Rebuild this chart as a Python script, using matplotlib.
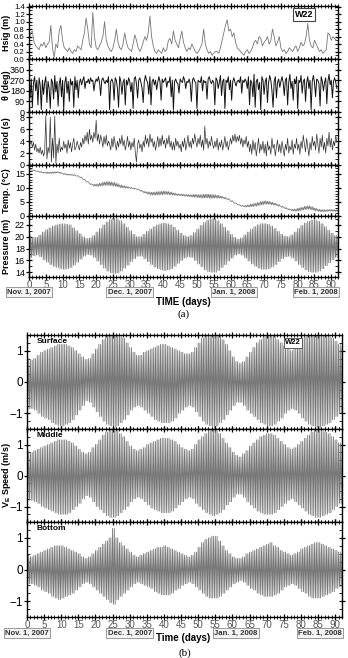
import matplotlib
matplotlib.use("Agg")
import matplotlib.pyplot as plt
import matplotlib.transforms as mtransforms
from matplotlib.ticker import MultipleLocator

plt.rcParams['font.family'] = ['Liberation Sans', 'DejaVu Sans']

# ---------------- data ----------------
days_ticks = list(range(0, 91, 5))
date_labels = ["Nov. 1, 2007", "Dec. 1, 2007", "Jan. 1, 2008", "Feb. 1, 2008"]
date_days = [0, 30, 61, 92]

# Hsig (m), half-day samples
hsig = [0.5, 0.7, 0.75, 0.45, 0.35, 0.3, 0.25, 0.4, 0.35, 0.45, 0.3, 0.4, 0.45, 0.9, 0.3, 0.05,
        0.4, 0.3, 0.75, 0.9, 0.5, 0.3, 0.25, 0.2, 0.3, 0.2, 0.15, 0.25, 0.2, 0.35, 0.3, 0.25,
        0.5, 0.7, 1.1, 0.8, 0.4, 0.3, 1.25, 0.6, 0.3, 0.25, 0.35, 0.45, 0.6, 1.0, 0.5, 0.35,
        0.25, 0.2, 0.3, 0.5, 0.8, 0.45, 0.3, 0.25, 0.4, 0.7, 0.45, 0.3, 0.25, 0.2, 0.4, 0.65,
        0.5, 0.3, 0.2, 0.3, 0.45, 0.6, 0.5, 0.7, 1.15, 0.6, 0.35, 0.2, 0.15, 0.25, 0.2, 0.15,
        0.3, 0.2, 0.25, 0.5, 0.55, 0.4, 0.75, 0.5, 0.4, 0.3, 0.55, 0.75, 0.45, 0.3, 0.2, 0.3,
        0.25, 0.4, 0.3, 0.2, 0.15, 0.2, 0.3, 0.4, 0.8, 0.4, 0.25, 0.15, 0.2, 0.1, 0.15, 0.2,
        0.2, 0.15, 0.3, 0.5, 0.7, 0.9, 1.05, 0.75, 0.8, 0.6, 0.7, 0.45, 0.3, 0.25, 0.2, 0.15,
        0.1, 0.2, 0.25, 0.15, 0.2, 0.3, 0.45, 0.5, 0.4, 0.6, 0.55, 0.35, 0.45, 0.5, 0.6, 0.4,
        0.5, 0.8, 0.6, 0.35, 0.45, 0.6, 0.3, 0.2, 0.25, 0.15, 0.2, 0.3, 0.25, 0.2, 0.3, 0.35,
        0.2, 0.3, 0.45, 0.35, 0.4, 0.6, 0.95, 0.5, 0.35, 0.3, 0.5, 0.4, 0.3, 0.2, 0.25, 0.15,
        0.2, 0.25, 0.7, 0.65, 0.5, 0.6, 0.55, 0.5]

# wave direction (deg), three samples per day
theta = [260, 120, 280, 40, 250, 300, 180, 270, 60, 290, 230, 20, 270, 150, 250,
         300, 80, 260, 200, 30, 280, 250, 110, 310, 170, 260, 50, 240, 290, 130,
         270, 20, 250, 300, 160, 260, 90, 280, 230, 260, 40, 300, 190, 270, 120,
         250, 280, 230, 270, 300, 200, 260, 250, 280, 240, 290, 260, 270, 180, 250,
         280, 260, 300, 250, 140, 270, 290, 260, 240, 270, 250, 300, 20, 260, 280,
         250, 100, 290, 270, 200, 40, 300, 260, 150, 250, 280, 60, 270, 230, 290,
         260, 170, 250, 30, 280, 300, 240, 120, 270, 290, 250, 200, 80, 260, 310,
         270, 250, 150, 300, 60, 260, 280, 230, 270, 190, 250, 300, 260, 100, 280,
         250, 270, 290, 210, 260, 250, 300, 130, 270, 20, 260, 280, 250, 240, 160,
         280, 260, 250, 300, 270, 200, 260, 250, 280, 240, 90, 270, 290, 260, 250,
         30, 270, 260, 250, 300, 180, 270, 250, 260, 110, 280, 300, 260, 240, 270,
         250, 60, 290, 270, 200, 250, 310, 140, 260, 280, 30, 270, 250, 300, 190,
         270, 100, 260, 290, 250, 220, 260, 270, 250, 300, 160, 270, 250, 280, 260,
         200, 300, 60, 270, 250, 130, 320, 40, 260, 280, 190, 250, 20, 300, 270,
         150, 260, 290, 80, 250, 310, 270, 180, 40, 260, 300, 120, 250, 280, 210,
         260, 300, 250, 140, 270, 290, 60, 250, 320, 200, 260, 100, 280, 240, 300,
         30, 270, 250, 310, 160, 260, 280, 90, 250, 300, 200, 270, 20, 260, 310,
         250, 130, 280, 270, 240, 50, 300, 260, 180, 250, 290, 70, 260, 320, 230,
         270, 120, 260, 290, 250, 200]

# wave period (s), three samples per day
period = [4.2, 3.5, 4.0, 3.0, 3.8, 2.5, 3.5, 2.2, 2.8, 2.0, 3.0, 1.8, 2.5, 1.5, 2.2,
          8.2, 1.0, 3.0, 2.0, 8.0, 0.5, 4.5, 1.2, 8.2, 0.3, 3.5, 2.0, 4.5, 2.2, 3.0,
          2.5, 4.0, 2.8, 3.5, 2.0, 4.2, 2.8, 3.8, 2.2, 3.5, 4.5, 2.5, 3.0, 4.0, 3.2,
          2.5, 3.8, 3.0, 4.5, 3.5, 5.0, 4.0, 5.5, 3.5, 6.0, 4.2, 5.0, 3.8, 5.5, 4.5,
          7.5, 4.0, 5.2, 3.5, 5.0, 4.2, 3.0, 4.8, 3.5, 5.0, 3.2, 4.0, 3.5, 2.5, 4.5,
          3.0, 4.8, 3.5, 2.5, 4.0, 3.0, 4.5, 3.5, 5.0, 3.2, 4.2, 2.5, 3.5, 4.8, 3.0,
          4.0, 2.5, 3.8, 3.0, 4.5, 2.0, 0.5, 3.5, 4.2, 2.8, 3.5, 2.2, 4.0, 3.0, 5.0,
          3.5, 4.5, 3.0, 5.2, 3.8, 4.5, 3.0, 4.0, 2.5, 3.5, 4.8, 3.0, 4.5, 3.2, 5.0,
          3.5, 4.2, 2.8, 4.5, 3.5, 5.0, 3.0, 4.0, 2.5, 3.8, 2.5, 4.5, 3.2, 4.0, 2.8,
          3.5, 2.2, 4.0, 3.0, 4.5, 2.5, 3.5, 5.0, 3.0, 4.0, 2.8, 4.5, 3.5, 5.2, 4.0,
          3.0, 4.5, 3.5, 5.0, 3.0, 4.2, 2.5, 6.5, 3.5, 4.5, 2.8, 4.0, 3.2, 4.8, 3.5,
          2.8, 4.0, 3.0, 4.5, 2.5, 3.8, 3.0, 4.2, 2.5, 3.5, 4.8, 3.0, 4.0, 2.5, 3.5,
          4.5, 3.5, 5.0, 4.0, 5.2, 3.8, 4.8, 4.0, 5.0, 3.5, 4.5, 3.0, 4.2, 3.5, 4.8,
          3.0, 4.0, 2.2, 3.5, 1.8, 4.2, 2.5, 3.8, 1.5, 3.0, 4.5, 2.0, 3.5, 2.5, 4.0,
          2.0, 3.5, 1.5, 4.0, 2.5, 3.2, 1.8, 4.5, 2.8, 3.5, 1.5, 3.0, 4.2, 2.2, 3.5,
          2.0, 4.0, 2.8, 1.5, 3.5, 2.5, 4.5, 2.0, 3.2, 2.5, 4.2, 1.8, 3.5, 2.8, 4.5,
          2.5, 3.5, 1.8, 4.0, 2.8, 5.0, 3.5, 2.2, 4.5, 3.0, 1.5, 3.8, 2.5, 4.8, 3.2,
          4.0, 2.5, 5.2, 3.5, 2.0, 4.5, 3.0, 5.0, 2.5, 3.8, 2.0, 4.5, 3.2, 5.5, 3.0,
          4.5, 2.5, 4.0, 3.2, 5.0, 3.8]

# temperature (deg C), daily mean and daily tidal half-range
temp = [16.5, 16.3, 16.0, 15.7, 15.5, 15.4, 15.4, 15.5, 15.6, 15.4, 15.0, 14.8, 14.7, 14.6, 14.3,
        13.8, 13.0, 12.2, 11.4, 11.0, 11.0, 11.2, 11.5, 11.6, 11.5, 11.3, 11.0, 10.6, 10.4, 10.2,
        10.0, 9.8, 9.5, 9.0, 8.5, 8.2, 8.0, 8.0, 8.1, 8.2, 8.3, 8.2, 8.0, 7.8, 7.6, 7.5, 7.4, 7.3,
        7.2, 7.2, 7.1, 7.0, 7.1, 7.1, 7.0, 7.0, 6.9, 6.7, 6.4, 6.0, 5.3, 4.6, 4.0, 3.6, 3.5, 3.6,
        3.8, 4.0, 4.3, 4.6, 4.8, 4.7, 4.5, 4.2, 3.8, 3.3, 2.8, 2.4, 2.1, 2.1, 2.3, 2.6, 2.9, 3.0,
        2.7, 2.3, 2.0, 1.9, 1.9, 2.0, 2.0, 1.9, 1.9]
temp_amp = [0.1, 0.1, 0.1, 0.15, 0.15, 0.2, 0.25, 0.25, 0.2, 0.2, 0.2, 0.2, 0.15, 0.15, 0.1, 0.1, 0.1, 0.1, 0.15,
            0.3, 0.4, 0.5, 0.6, 0.7, 0.7, 0.7, 0.6, 0.5, 0.4, 0.3, 0.2, 0.15, 0.15, 0.2,
            0.3, 0.4, 0.5, 0.55, 0.6, 0.6, 0.6, 0.55, 0.5, 0.4, 0.3, 0.3, 0.3, 0.35, 0.4,
            0.5, 0.55, 0.6, 0.65, 0.7, 0.7, 0.6, 0.5, 0.4, 0.3, 0.2, 0.15, 0.1, 0.1, 0.15,
            0.25, 0.35, 0.45, 0.5, 0.55, 0.6, 0.6, 0.55, 0.5, 0.4, 0.3, 0.2, 0.2, 0.2, 0.3,
            0.4, 0.5, 0.5, 0.55, 0.6, 0.6, 0.5, 0.4, 0.35, 0.3, 0.3, 0.3, 0.3, 0.3]

# pressure (m): daily high / low water
pres_hi = [20.2, 19.9, 19.9, 20.3, 20.8, 21.2, 21.5, 21.8, 22.0, 22.1, 22.2, 22.1, 22.0, 21.5, 21.0, 20.5, 20.0, 19.7, 19.8,
           20.2, 20.8, 21.4, 22.0, 22.5, 22.9, 23.1, 23.0, 22.7, 22.2, 21.6, 21.0, 20.4, 20.0, 20.0,
           20.4, 20.9, 21.3, 21.7, 22.0, 22.2, 22.3, 22.2, 22.0, 21.6, 21.1, 20.6, 20.2, 20.0, 20.2,
           20.7, 21.3, 21.9, 22.4, 22.8, 23.0, 23.0, 22.7, 22.2, 21.6, 21.0, 20.4, 19.9, 19.6, 19.8,
           20.3, 20.8, 21.3, 21.7, 22.0, 22.2, 22.2, 22.1, 21.8, 21.4, 20.9, 20.4, 20.1, 20.0, 20.3,
           20.8, 21.4, 21.9, 22.3, 22.6, 22.8, 22.8, 22.6, 22.2, 21.7, 21.1, 20.6, 20.2, 20.0]
pres_lo = [16.5, 16.8, 16.9, 16.6, 16.1, 15.7, 15.3, 15.0, 14.8, 14.6, 14.5, 14.6, 14.8, 15.2, 15.7, 16.2, 16.7, 17.0, 16.9,
           16.5, 15.9, 15.3, 14.7, 14.2, 13.9, 13.8, 13.9, 14.2, 14.7, 15.2, 15.8, 16.3, 16.7, 16.7,
           16.3, 15.8, 15.3, 14.9, 14.6, 14.4, 14.3, 14.4, 14.6, 15.0, 15.5, 16.0, 16.4, 16.6, 16.5,
           16.0, 15.4, 14.9, 14.4, 14.1, 14.0, 14.0, 14.3, 14.8, 15.3, 15.9, 16.4, 16.9, 17.1, 16.9,
           16.4, 15.9, 15.4, 15.0, 14.7, 14.5, 14.5, 14.6, 14.9, 15.3, 15.8, 16.3, 16.6, 16.7, 16.4,
           15.9, 15.3, 14.8, 14.4, 14.1, 14.0, 14.0, 14.2, 14.6, 15.1, 15.6, 16.1, 16.5, 16.7]

# eastward velocity (m/s): daily max / min
surf_hi = [0.75, 0.7, 0.75, 0.85, 0.95, 1.0, 1.05, 1.1, 1.15, 1.2, 1.2, 1.2, 1.15, 1.1, 1.0, 0.9, 0.8, 0.72, 0.75,
           0.9, 1.05, 1.2, 1.35, 1.5, 1.6, 1.65, 1.6, 1.5, 1.4, 1.25, 1.1, 0.95, 0.85, 0.85,
           0.95, 1.0, 1.05, 1.1, 1.15, 1.2, 1.2, 1.15, 1.1, 1.05, 1.0, 0.95, 0.9, 0.9, 0.95,
           1.1, 1.25, 1.4, 1.5, 1.6, 1.65, 1.6, 1.5, 1.35, 1.2, 1.0, 0.8, 0.65, 0.6, 0.65,
           0.8, 0.95, 1.1, 1.25, 1.35, 1.45, 1.5, 1.5, 1.45, 1.35, 1.25, 1.15, 1.05, 1.0, 1.05,
           1.2, 1.35, 1.45, 1.55, 1.6, 1.65, 1.65, 1.6, 1.55, 1.5, 1.4, 1.3, 1.2, 1.1]
surf_lo = [-0.85, -0.85, -0.9, -1.0, -1.1, -1.15, -1.2, -1.3, -1.35, -1.4, -1.4, -1.35, -1.3, -1.2, -1.05, -0.9, -0.75, -0.6, -0.65,
           -0.8, -0.95, -1.1, -1.25, -1.35, -1.4, -1.45, -1.4, -1.3, -1.2, -1.05, -0.9, -0.8, -0.75, -0.8,
           -0.9, -1.0, -1.1, -1.2, -1.25, -1.3, -1.3, -1.3, -1.25, -1.15, -1.0, -0.9, -0.8, -0.75, -0.8,
           -0.95, -1.1, -1.25, -1.35, -1.4, -1.45, -1.4, -1.3, -1.2, -1.05, -0.9, -0.75, -0.65, -0.65, -0.75,
           -0.9, -1.0, -1.1, -1.2, -1.3, -1.35, -1.4, -1.4, -1.35, -1.25, -1.15, -1.0, -0.9, -0.85, -0.9,
           -1.0, -1.15, -1.25, -1.35, -1.4, -1.45, -1.45, -1.4, -1.35, -1.3, -1.2, -1.1, -1.0, -0.95]
mid_hi = [0.8, 0.75, 0.8, 0.85, 0.9, 0.95, 1.0, 1.05, 1.1, 1.15, 1.15, 1.15, 1.1, 1.05, 0.95, 0.85, 0.75, 0.7, 0.75,
          0.9, 1.0, 1.15, 1.3, 1.4, 1.45, 1.5, 1.45, 1.35, 1.25, 1.1, 0.95, 0.85, 0.8, 0.85,
          0.9, 1.0, 1.05, 1.1, 1.15, 1.2, 1.2, 1.2, 1.15, 1.1, 1.0, 0.9, 0.85, 0.8, 0.85,
          1.0, 1.15, 1.25, 1.35, 1.45, 1.5, 1.45, 1.35, 1.2, 1.05, 0.9, 0.75, 0.65, 0.6, 0.7,
          0.8, 0.95, 1.05, 1.15, 1.25, 1.3, 1.35, 1.35, 1.3, 1.2, 1.1, 1.0, 0.9, 0.85, 0.9,
          1.0, 1.1, 1.2, 1.3, 1.4, 1.45, 1.45, 1.45, 1.4, 1.35, 1.25, 1.15, 1.05, 0.95]
mid_lo = [-0.8, -0.8, -0.85, -0.9, -1.0, -1.05, -1.1, -1.15, -1.2, -1.25, -1.25, -1.25, -1.2, -1.1, -1.0, -0.9, -0.75, -0.65, -0.7,
          -0.85, -1.0, -1.1, -1.2, -1.3, -1.35, -1.35, -1.3, -1.2, -1.1, -1.0, -0.85, -0.75, -0.7, -0.75,
          -0.85, -0.95, -1.05, -1.1, -1.15, -1.2, -1.2, -1.2, -1.15, -1.05, -0.95, -0.85, -0.75, -0.7, -0.75,
          -0.9, -1.0, -1.1, -1.2, -1.25, -1.3, -1.25, -1.2, -1.1, -0.95, -0.85, -0.7, -0.6, -0.6, -0.7,
          -0.85, -0.95, -1.05, -1.15, -1.2, -1.25, -1.25, -1.25, -1.2, -1.1, -1.0, -0.9, -0.8, -0.75, -0.85,
          -0.95, -1.05, -1.15, -1.25, -1.3, -1.35, -1.35, -1.3, -1.25, -1.2, -1.1, -1.0, -0.9, -0.85]
bot_hi = [0.45, 0.4, 0.45, 0.5, 0.55, 0.6, 0.65, 0.7, 0.75, 0.75, 0.75, 0.7, 0.65, 0.6, 0.55, 0.5, 0.4, 0.35, 0.4,
          0.5, 0.6, 0.7, 0.8, 0.9, 1.0, 1.3, 1.0, 0.85, 0.75, 0.65, 0.55, 0.45, 0.4, 0.45,
          0.5, 0.55, 0.6, 0.65, 0.7, 0.7, 0.75, 0.7, 0.65, 0.6, 0.55, 0.5, 0.45, 0.4, 0.45,
          0.55, 0.7, 0.85, 0.95, 1.0, 1.05, 1.05, 0.9, 0.75, 0.6, 0.5, 0.4, 0.35, 0.35, 0.4,
          0.5, 0.55, 0.6, 0.65, 0.7, 0.75, 0.8, 0.85, 0.75, 0.7, 0.6, 0.55, 0.5, 0.45, 0.5,
          0.55, 0.65, 0.7, 0.75, 0.8, 0.85, 0.85, 0.8, 0.75, 0.7, 0.65, 0.6, 0.55, 0.5]
bot_lo = [-0.45, -0.45, -0.5, -0.55, -0.65, -0.7, -0.75, -0.85, -0.9, -0.95, -0.9, -0.85, -0.8, -0.75, -0.65, -0.55, -0.45, -0.4, -0.45,
          -0.55, -0.65, -0.75, -0.85, -0.95, -1.05, -1.1, -0.95, -0.85, -0.75, -0.65, -0.55, -0.45, -0.4, -0.45,
          -0.5, -0.55, -0.6, -0.7, -0.75, -0.8, -0.8, -0.8, -0.75, -0.65, -0.6, -0.5, -0.45, -0.4, -0.45,
          -0.55, -0.65, -0.75, -0.85, -0.9, -0.9, -0.9, -0.85, -0.75, -0.65, -0.55, -0.45, -0.4, -0.35, -0.4,
          -0.5, -0.6, -0.65, -0.75, -0.8, -0.85, -0.85, -0.85, -0.8, -0.75, -0.65, -0.55, -0.5, -0.45, -0.5,
          -0.6, -0.7, -0.75, -0.85, -0.9, -0.9, -0.9, -0.85, -0.8, -0.75, -0.7, -0.6, -0.55, -0.5]

# ---------------- helpers ----------------
LINE = '#777777'


def steps(vals, per_day):
    return [i / per_day for i in range(len(vals))]


def tidal(hi, lo):
    xs, ys = [], []
    for d, (h, l) in enumerate(zip(hi, lo)):
        for q, v in zip((0.0, 0.25, 0.5, 0.75), (h, l, h, l)):
            xs.append(d + q)
            ys.append(v)
    return xs, ys


def style(ax, xlabels=False, yfs=6.5):
    ax.set_xlim(0, 92)
    ax.xaxis.set_major_locator(MultipleLocator(5))
    ax.xaxis.set_minor_locator(MultipleLocator(1))
    ax.tick_params(axis='x', which='major', direction='inout', length=5, width=0.9,
                   top=True, bottom=True, labelbottom=xlabels, labelsize=7,
                   labelcolor='#555555', pad=-0.5)
    ax.tick_params(axis='x', which='minor', direction='inout', length=2.5, width=0.6,
                   top=True, bottom=True)
    ax.tick_params(axis='y', which='major', direction='inout', length=5, width=0.9,
                   left=True, right=True, labelsize=yfs, pad=0.5)
    ax.tick_params(axis='y', which='minor', direction='in', length=2.5, width=0.6,
                   left=True, right=True)
    for s in ax.spines.values():
        s.set_linewidth(1.0)


def date_boxes(ax, fig, ybox):
    trans = mtransforms.blended_transform_factory(ax.transData, fig.transFigure)
    for lab, d in zip(date_labels, date_days):
        ha = 'right' if d == 92 else 'center'
        ax.text(d, ybox, lab, transform=trans, ha=ha, va='center', fontsize=5.6,
                fontweight='bold', color='#333333', clip_on=False,
                bbox=dict(boxstyle='square,pad=0.18', fc='#f4f4f4', ec='#8a8a8a', lw=0.6))


W, H = 348, 658
fig = plt.figure(figsize=(W / 100, H / 100), dpi=100)


def add_ax(left, right, top, bottom):
    return fig.add_axes([left / W, 1 - bottom / H, (right - left) / W, (bottom - top) / H])


def ylab(ax, text, left, xpix, fs):
    # xpix: right edge (glyph baseline side) of the rotated label, in pixels
    ax.set_ylabel(text, fontsize=fs, fontweight='bold')
    ax.yaxis.set_label_coords((xpix - left) / (ax.get_position().width * W), 0.5)


# ---------------- panel (a) ----------------
axL, axR = 29, 338
ax1 = add_ax(axL, axR, 6, 59)
ax2 = add_ax(axL, axR, 59, 112)
ax3 = add_ax(axL, axR, 112, 165)
ax4 = add_ax(axL, axR, 165, 216)
ax5 = add_ax(axL, axR, 216, 277)

ax1.plot(steps(hsig, 2), hsig, color=LINE, lw=0.6)
ax1.set_ylim(0, 1.42)
ax1.set_yticks([0.0, 0.2, 0.4, 0.6, 0.8, 1.0, 1.2, 1.4])
ax1.set_yticklabels(['0.0', '0.2', '0.4', '0.6', '0.8', '1.0', '1.2', '1.4'])
ax1.yaxis.set_minor_locator(MultipleLocator(0.1))
style(ax1, yfs=5.6)
ylab(ax1, 'Hsig (m)', axL, 11, 6.5)
ax1.text(0.89, 0.84, 'W22', transform=ax1.transAxes, ha='center', va='center',
         fontsize=6.5, fontweight='bold',
         bbox=dict(boxstyle='square,pad=0.2', fc='white', ec='#444444', lw=0.8))

ax2.plot(steps(theta, 3), theta, color='#111111', lw=0.7)
ax2.set_ylim(0, 450)
ax2.set_yticks([0, 90, 180, 270, 360])
ax2.yaxis.set_minor_locator(MultipleLocator(45))
style(ax2)
ylab(ax2, 'θ (deg)', axL, 11, 6.5)

ax3.plot(steps(period, 3), period, color='#333333', lw=0.5)
ax3.set_ylim(0, 8.9)
ax3.set_yticks([0, 2, 4, 6, 8])
ax3.yaxis.set_minor_locator(MultipleLocator(1))
style(ax3)
ylab(ax3, 'Period (s)', axL, 11, 6.5)

tx, ty = [], []
for d, (m, a) in enumerate(zip(temp, temp_amp)):
    for q, s in zip((0.0, 0.25, 0.5, 0.75), (1, -1, 1, -1)):
        tx.append(d + q)
        ty.append(m + s * a)
ax4.plot(tx, ty, color=LINE, lw=0.55)
ax4.set_ylim(0, 18.2)
ax4.set_yticks([0, 5, 10, 15])
ax4.yaxis.set_minor_locator(MultipleLocator(1))
style(ax4)
ylab(ax4, 'Temp. (°C)', axL, 11, 6.5)

px, py = tidal(pres_hi, pres_lo)
ax5.plot(px, py, color=LINE, lw=0.6)
ax5.set_ylim(13.2, 23.5)
ax5.set_yticks([14, 16, 18, 20, 22])
ax5.yaxis.set_minor_locator(MultipleLocator(1))
style(ax5, xlabels=True)
ax5.set_xticks(days_ticks)
ylab(ax5, 'Pressure (m)', axL, 11, 6.5)
date_boxes(ax5, fig, 1 - 292 / H)
fig.text(183 / W, 1 - 302 / H, 'TIME (days)', ha='center', va='center',
         fontsize=7, fontweight='bold')
fig.text((axL + axR) / 2 / W, 1 - 314 / H, '(a)', ha='center', va='center',
         fontsize=8, family='Liberation Serif')

# ---------------- panel (b) ----------------
bL, bR = 27, 342
bx1 = add_ax(bL, bR, 335, 429)
bx2 = add_ax(bL, bR, 429, 522)
bx3 = add_ax(bL, bR, 522, 617)
for ax, (hi, lo), name in zip((bx1, bx2, bx3),
                              ((surf_hi, surf_lo), (mid_hi, mid_lo), (bot_hi, bot_lo)),
                              ('Surface', 'Middle', 'Bottom')):
    xs, ys = tidal(hi, lo)
    ax.plot(xs, ys, color=LINE, lw=0.6)
    ax.set_ylim(-1.5, 1.5)
    ax.set_yticks([-1, 0, 1])
    ax.yaxis.set_minor_locator(MultipleLocator(0.25))
    style(ax, xlabels=(name == 'Bottom'), yfs=8.5)
    ax.text(0.03, 0.935, name, transform=ax.transAxes, ha='left', va='center',
            fontsize=6, fontweight='bold')
bx3.set_xticks(days_ticks)
bx1.text(0.845, 0.915, 'W22', transform=bx1.transAxes, ha='center', va='center',
         fontsize=5.5, fontweight='bold',
         bbox=dict(boxstyle='square,pad=0.15', fc='white', ec='#444444', lw=0.6))
ylab(bx2, r'V$_\mathregular{E}$ Speed (m/s)', bL, 13, 6.5)
date_boxes(bx3, fig, 1 - 633 / H)
fig.text(183 / W, 1 - 638 / H, 'Time (days)', ha='center', va='center',
         fontsize=7, fontweight='bold')
fig.text((bL + bR) / 2 / W, 1 - 653 / H, '(b)', ha='center', va='center',
         fontsize=8, family='Liberation Serif')

fig.savefig('out.png', dpi=100)
